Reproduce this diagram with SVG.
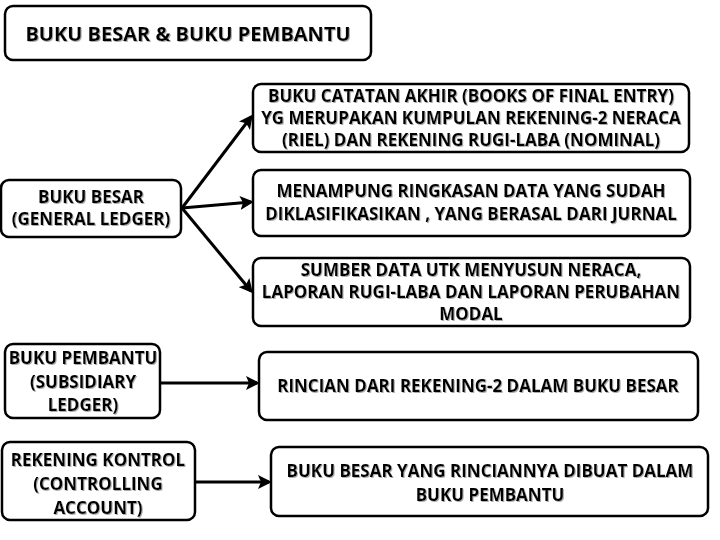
<svg xmlns="http://www.w3.org/2000/svg" width="720" height="540" viewBox="0 0 720 540">
<defs>
<filter id="sh" x="-5%" y="-20%" width="110%" height="140%"><feDropShadow dx="1" dy="1" stdDeviation="0.6" flood-color="#999" flood-opacity="0.8"/></filter>
<marker id="ar" markerWidth="14" markerHeight="14" refX="11" refY="7" orient="auto" markerUnits="userSpaceOnUse"><path d="M0,0 L14,7 L0,14 L3,7 Z" fill="#000"/></marker>
</defs>
<style>
rect{fill:#fff;stroke:#000;stroke-width:2.5}
text{font-family:"Open Sans","Liberation Sans",sans-serif;font-weight:700;font-size:17px;fill:#000;text-anchor:middle;filter:url(#sh)}
.c line{stroke:#000;stroke-width:3;marker-end:url(#ar)}
</style>
<rect fill="#fff" width="720" height="540" style="stroke:none"/>
<g id="title"><rect x="5" y="6" width="366" height="54" rx="8"/><text x="188" y="41" style="font-size:20px">BUKU BESAR &amp; BUKU PEMBANTU</text></g>
<g id="bb"><rect x="1" y="180" width="180" height="57" rx="8"/><text x="91" y="203">BUKU BESAR</text><text x="91" y="225">(GENERAL LEDGER)</text></g>
<g id="a"><rect x="253" y="84" width="436" height="68" rx="8"/><text x="471" y="102">BUKU CATATAN AKHIR (BOOKS OF FINAL ENTRY)</text><text x="471" y="124">YG MERUPAKAN KUMPULAN REKENING-2 NERACA</text><text x="471" y="146">(RIEL) DAN  REKENING RUGI-LABA (NOMINAL)</text></g>
<g id="b"><rect x="253" y="170" width="437" height="66" rx="8"/><text x="471" y="197">MENAMPUNG RINGKASAN DATA YANG SUDAH</text><text x="471" y="220">DIKLASIFIKASIKAN , YANG BERASAL DARI JURNAL</text></g>
<g id="c"><rect x="253" y="258" width="437" height="68" rx="8"/><text x="471" y="276">SUMBER DATA UTK MENYUSUN NERACA,</text><text x="471" y="298">LAPORAN RUGI-LABA DAN LAPORAN PERUBAHAN</text><text x="471" y="320">MODAL</text></g>
<g id="bp"><rect x="5" y="344" width="155" height="74" rx="8"/><text x="83" y="364">BUKU PEMBANTU</text><text x="83" y="388">(SUBSIDIARY</text><text x="83" y="411">LEDGER)</text></g>
<g id="r1"><rect x="259" y="352" width="439" height="68" rx="8"/><text x="478" y="392">RINCIAN DARI REKENING-2 DALAM BUKU BESAR</text></g>
<g id="rk"><rect x="2" y="442" width="193" height="78" rx="8"/><text x="98" y="466">REKENING KONTROL</text><text x="98" y="490">(CONTROLLING</text><text x="98" y="514">ACCOUNT)</text></g>
<g id="r2"><rect x="271" y="447" width="437" height="69" rx="8"/><text x="490" y="477">BUKU BESAR YANG RINCIANNYA DIBUAT DALAM</text><text x="490" y="501">BUKU PEMBANTU</text></g>
<g class="c" id="connectors">
<line x1="182" y1="208" x2="251" y2="117"/>
<line x1="182" y1="208" x2="251" y2="202"/>
<line x1="182" y1="208" x2="251" y2="291"/>
<line x1="160" y1="383" x2="257" y2="383"/>
<line x1="195" y1="482" x2="269" y2="482"/>
</g>
</svg>
